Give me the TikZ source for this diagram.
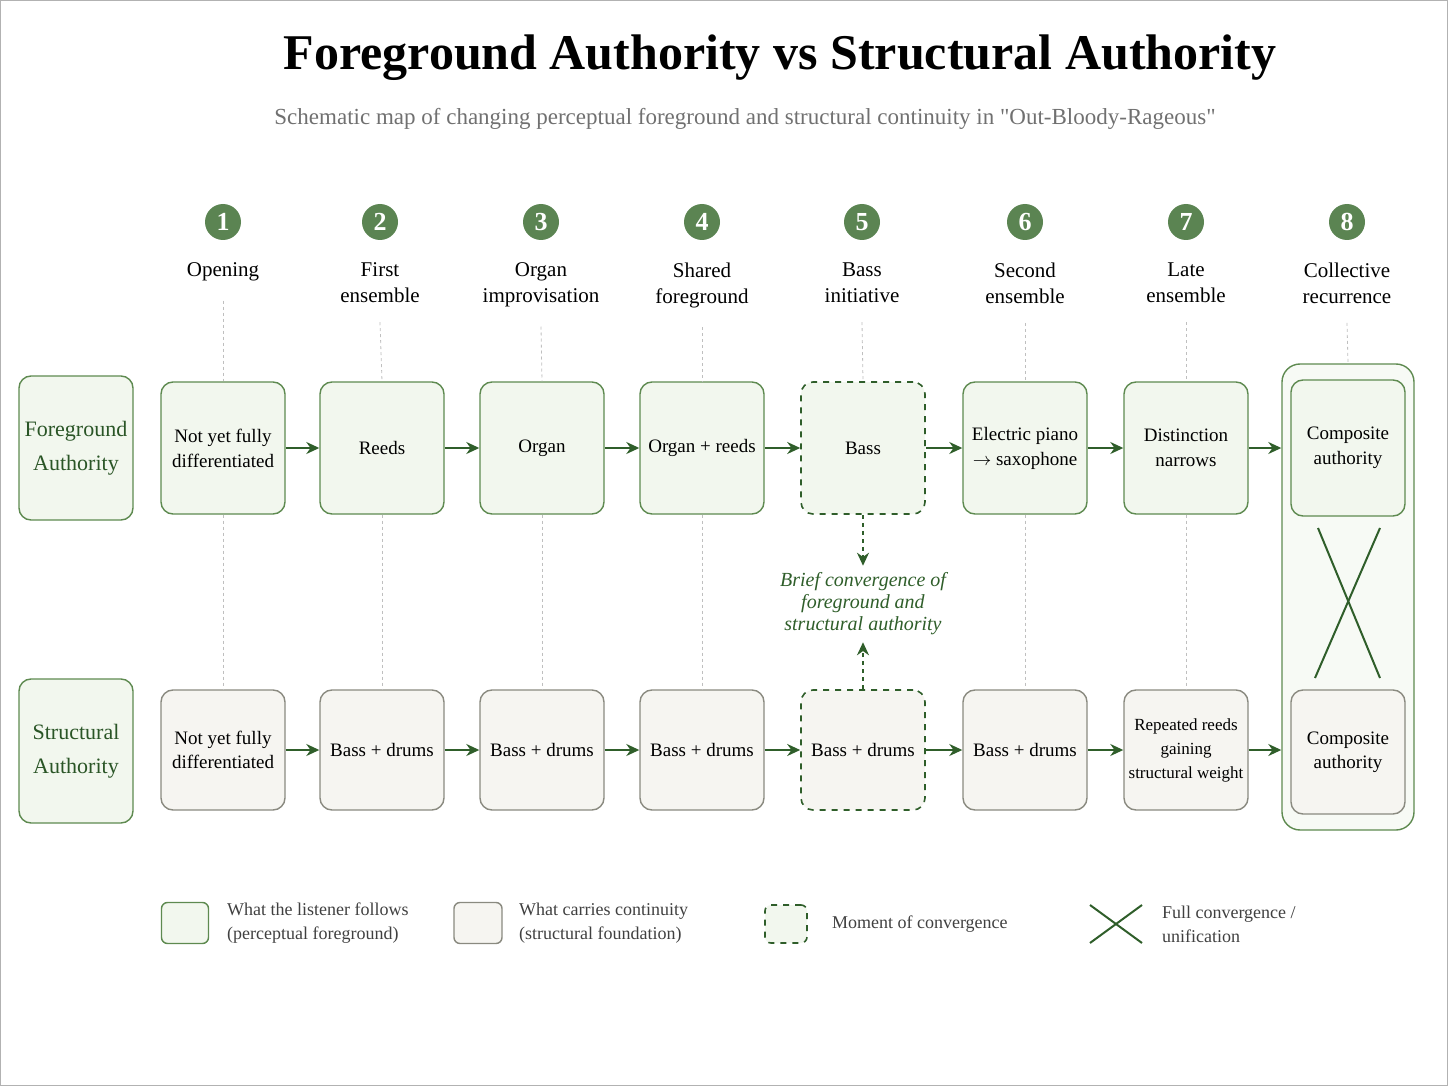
\documentclass[tikz,border=0pt]{standalone}
\usepackage{fontspec}
\setmainfont{Liberation Serif}
\usetikzlibrary{arrows.meta}
\definecolor{gdark}{HTML}{2F5E2A}
\definecolor{gborder}{HTML}{5E8A50}
\definecolor{gcirc}{HTML}{5B8452}
\definecolor{topfill}{HTML}{F2F7EE}
\definecolor{botfill}{HTML}{F6F5F1}
\definecolor{botborder}{HTML}{8A8A80}
\definecolor{subgray}{HTML}{707070}
\begin{document}
\begin{tikzpicture}[x=0.5pt,y=-0.5pt,
  top/.style={draw=gborder,fill=topfill,rounded corners=6pt,line width=0.7pt,minimum width=62pt,minimum height=66pt,align=center,font=\fontsize{9.5}{12.5}\selectfont,inner sep=1pt},
  bot/.style={draw=botborder,fill=botfill,rounded corners=6pt,line width=0.7pt,minimum width=62pt,minimum height=60pt,align=center,font=\fontsize{9.5}{12}\selectfont,inner sep=1pt},
  conv/.style={draw=gdark,dashed,line width=0.8pt},
  rowlab/.style={draw=gborder,fill=topfill,rounded corners=6pt,line width=0.7pt,minimum width=57pt,minimum height=72pt,align=center,inner sep=1pt,text=gdark!90!black,font=\fontsize{11}{17}\selectfont},
  num/.style={circle,fill=gcirc,text=white,minimum size=18pt,inner sep=0pt,font=\fontsize{13}{13}\selectfont\bfseries},
  col/.style={align=center,font=\fontsize{10.5}{13}\selectfont},
  arr/.style={-{Stealth[length=6.5pt,width=6pt]},draw=gdark,line width=1pt},
  guide/.style={draw=gray!50,dash pattern=on 1.5pt off 1.5pt,line width=0.4pt},
  leg/.style={anchor=west,align=left,text=black!75,font=\fontsize{9}{12}\selectfont}]
\useasboundingbox (0,0) rectangle (1448,1086);
\draw[gray!60,line width=0.8pt] (0,0) rectangle (1448,1086);
\node (title) at (780,58) {\fontsize{25}{30}\selectfont\bfseries Foreground Authority vs Structural Authority};
\node[text=subgray] (sub) at (745,119) {\fontsize{11.5}{14}\selectfont Schematic map of changing perceptual foreground and structural continuity in \textquotedbl Out-Bloody-Rageous\textquotedbl};
% column 8 outer
\node[draw=gborder,fill=topfill!60!white,rounded corners=9pt,line width=0.7pt,minimum width=66pt,minimum height=233pt] (outer) at (1348,597) {};
\node[rowlab] (fa) at (76,448) {Foreground\\Authority};
\node[rowlab] (sa) at (76,751) {Structural\\Authority};
\foreach \i/\x/\lab in {1/223/Opening,2/380/First\\ensemble,3/541/Organ\\improvisation,4/702/Shared\\foreground,5/862/Bass\\initiative,6/1025/Second\\ensemble,7/1186/Late\\ensemble,8/1347/Collective\\recurrence}{
  \node[num] (n\i) at (\x,222) {\i};
  \node[col,anchor=north] (c\i) at (\x,256) {\lab};
}
\node[top] (t1) at (223,448) {Not yet fully\\differentiated};
\node[top] (t2) at (382,448) {Reeds};
\node[top] (t3) at (542,448) {Organ};
\node[top] (t4) at (702,448) {Organ + reeds};
\node[top,conv,fill=topfill] (t5) at (863,448) {Bass};
\node[top] (t6) at (1025,448) {Electric piano\\$\rightarrow$ saxophone};
\node[top] (t7) at (1186,448) {Distinction\\narrows};
\node[top,minimum width=57pt,minimum height=68pt] (t8) at (1348,448) {Composite\\authority};
\node[bot] (b1) at (223,750) {Not yet fully\\differentiated};
\node[bot] (b2) at (382,750) {Bass + drums};
\node[bot] (b3) at (542,750) {Bass + drums};
\node[bot] (b4) at (702,750) {Bass + drums};
\node[bot,conv,fill=botfill] (b5) at (863,750) {Bass + drums};
\node[bot] (b6) at (1025,750) {Bass + drums};
\node[bot,font=\fontsize{8.5}{12}\selectfont] (b7) at (1186,750) {Repeated reeds\\gaining\\structural weight};
\node[bot,minimum width=57pt,minimum height=62pt] (b8) at (1348,752) {Composite\\authority};
% guides
\foreach \i in {1,2,3,4,5,6,7}{\draw[guide] ([yshift=-6pt]c\i.south) -- (t\i.north);}
\draw[guide] ([yshift=-6pt]c8.south) -- (outer.north);
\foreach \i in {1,2,3,4,6,7}{\draw[guide] (t\i.south) -- (b\i.north);}
% arrows
\foreach \a/\b in {1/2,2/3,3/4,4/5,5/6,6/7}{
  \draw[arr] (t\a.east) -- (t\b.west);
  \draw[arr] (b\a.east) -- (b\b.west);
}
\draw[arr] (t7.east) -- (outer.west |- t7.east);
\draw[arr] (b7.east) -- (outer.west |- b7.east);
\node[text=gdark,align=center,font=\fontsize{10}{11}\selectfont\itshape] (convtxt) at (863,604) {Brief convergence of\\foreground and\\structural authority};
\draw[arr,dash pattern=on 2pt off 2pt] (t5.south) -- (convtxt.north);
\draw[arr,dash pattern=on 2pt off 2pt] (b5.north) -- (convtxt.south);
% X
\coordinate (x1) at (1318,528); \coordinate (x2) at (1380,678);
\coordinate (x3) at (1380,528); \coordinate (x4) at (1315,678);
\draw[gdark,line width=1pt] (x1) -- (x2); \draw[gdark,line width=1pt] (x3) -- (x4);
% legend
\node[draw=gborder,fill=topfill,rounded corners=3pt,minimum width=23.5pt,minimum height=20.5pt,line width=0.7pt] (l1) at (185,923) {};
\node[leg] (l1t) at (220,923) {What the listener follows\\(perceptual foreground)};
\node[draw=botborder,fill=botfill,rounded corners=3pt,minimum width=24pt,minimum height=20.5pt,line width=0.7pt] (l2) at (478,923) {};
\node[leg] (l2t) at (512,923) {What carries continuity\\(structural foundation)};
\node[draw=gdark,dashed,fill=topfill,rounded corners=3pt,minimum width=21pt,minimum height=19pt,line width=0.8pt] (l3) at (786,924) {};
\node[leg] (l3t) at (825,924) {Moment of convergence};
\coordinate (y1) at (1090,905); \coordinate (y2) at (1142,943);
\coordinate (y3) at (1142,905); \coordinate (y4) at (1090,943);
\draw[gdark,line width=1pt] (y1) -- (y2); \draw[gdark,line width=1pt] (y3) -- (y4);
\node[leg] (l4t) at (1155,924) {Full convergence /\\unification};
\end{tikzpicture}
\end{document}
